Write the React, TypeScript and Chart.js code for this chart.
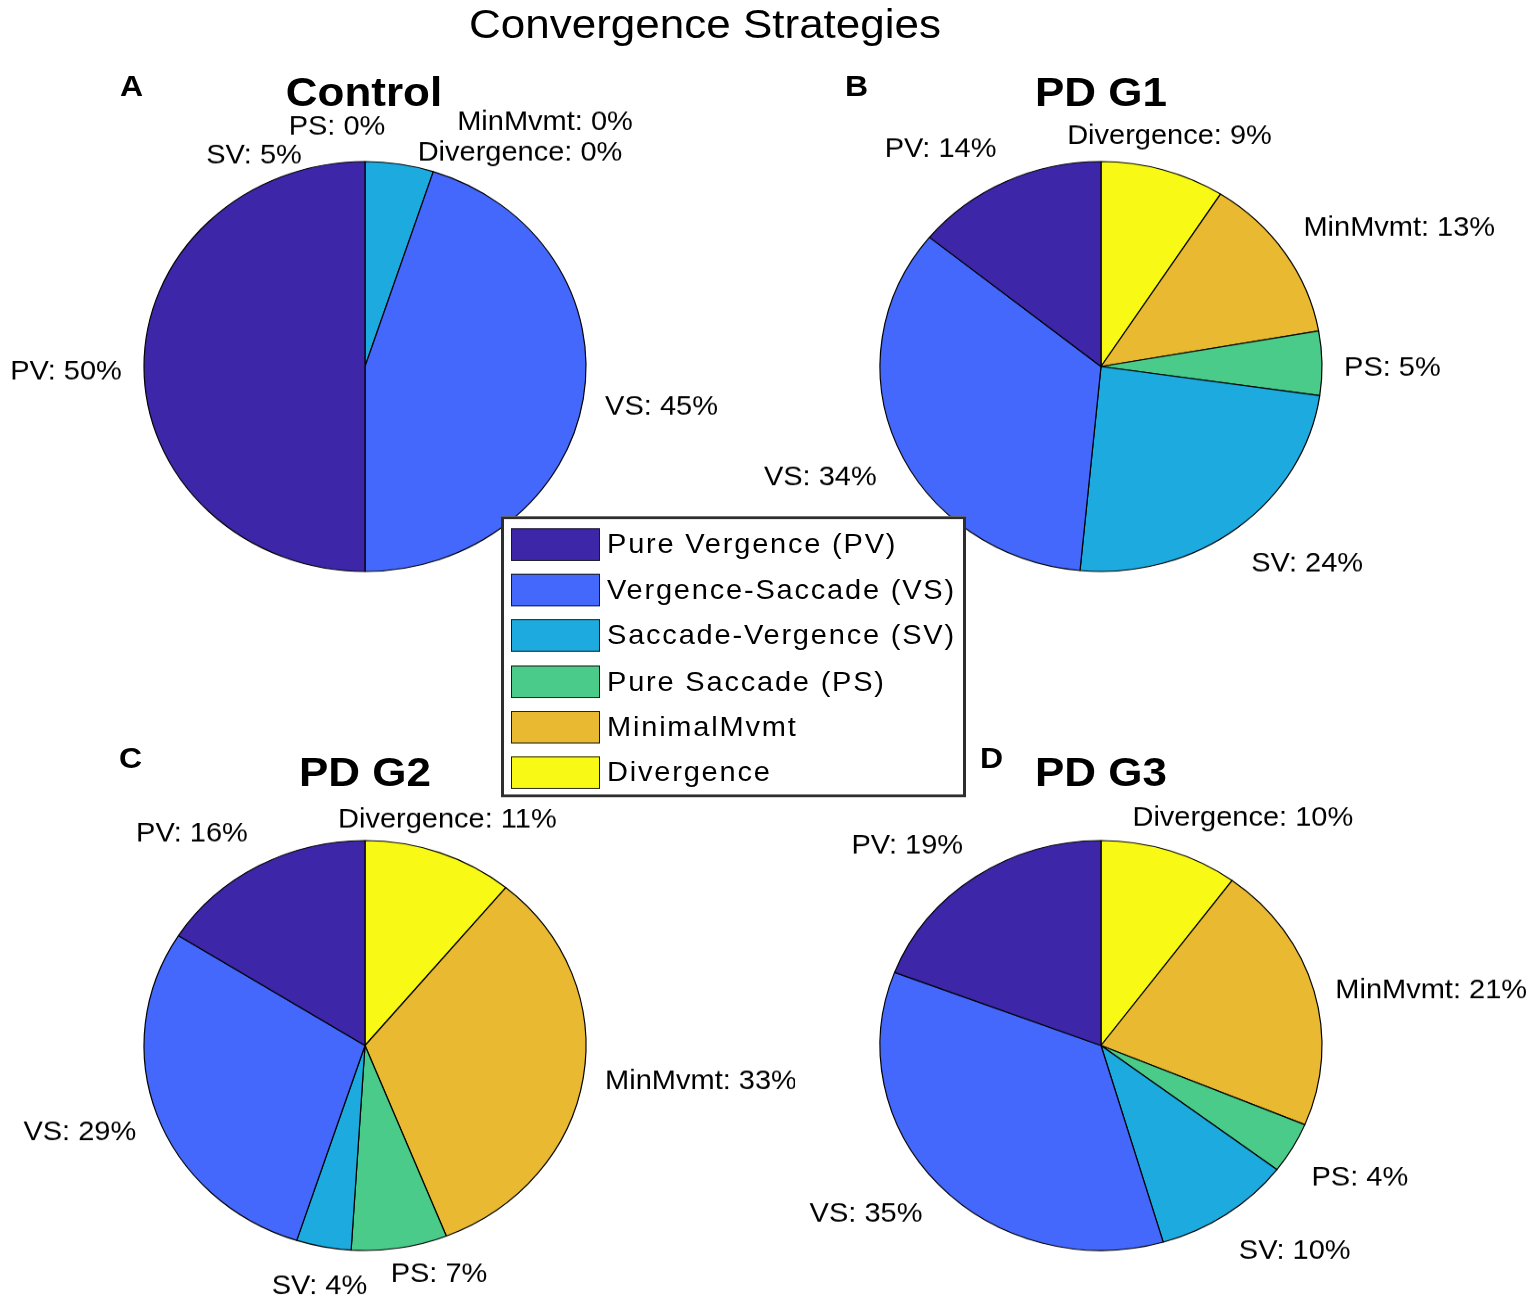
import React, { useEffect, useRef } from 'react';
import { Chart, registerables } from 'chart.js';

Chart.register(...registerables);

// categories in the order the legend lists them
const categories = [
  'Pure Vergence (PV)',
  'Vergence-Saccade (VS)',
  'Saccade-Vergence (SV)',
  'Pure Saccade (PS)',
  'MinimalMvmt',
  'Divergence',
];
const shortNames = ['PV', 'VS', 'SV', 'PS', 'MinMvmt', 'Divergence'];
const sliceColors = ['#3e26a8', '#4468fc', '#1daadf', '#4acb89', '#e9b931', '#f8f914'];

// percentages per group (same order as categories)
const controlValues = [50, 45, 5, 0, 0, 0];
const pdG1Values = [14, 34, 24, 5, 13, 9];
const pdG2Values = [16, 29, 4, 7, 33, 11];
const pdG3Values = [19, 35, 10, 4, 21, 10];

// the figure is slightly squashed vertically
const SY = 0.927;
const FONT = "'Liberation Sans', Arial, Helvetica, sans-serif";
const RADIUS = 221;
const CW = 860;
const CH = 620;

type Nudge = Record<string, { dx: number; dy: number }>;

// hand moved labels (pixels), the rest sit on the slice mid-angle
const controlNudges: Nudge = {
  SV: { dx: -149, dy: 28 },
  PS: { dx: -28, dy: 0 },
  MinMvmt: { dx: 180, dy: -5 },
  Divergence: { dx: 155, dy: 28 },
};
const pdG1Nudges: Nudge = { VS: { dx: 0, dy: 5 } };
const pdG2Nudges: Nudge = { PS: { dx: 36, dy: -15 }, VS: { dx: 0, dy: -10 }, MinMvmt: { dx: 0, dy: -5 } };
const pdG3Nudges: Nudge = { Divergence: { dx: 66, dy: 0 }, VS: { dx: 0, dy: -4 } };

interface PieProps {
  values: number[];
  cx: number;
  cy: number;
  nudges?: Nudge;
}

const PiePanel: React.FC<PieProps> = ({ values, cx, cy, nudges = {} }) => {
  const canvasRef = useRef<HTMLCanvasElement>(null);

  useEffect(() => {
    if (!canvasRef.current) return;
    const ctx = canvasRef.current.getContext('2d');
    if (!ctx) return;

    // MATLAB goes counter-clockwise, Chart.js clockwise -> reverse
    const names = [...shortNames].reverse();
    const data = [...values].reverse();
    const colors = [...sliceColors].reverse();

    const sliceLabels = {
      id: 'sliceLabels',
      afterDatasetsDraw(chart: Chart) {
        const c = chart.ctx;
        const meta = chart.getDatasetMeta(0);
        c.save();
        c.font = `29px ${FONT}`;
        c.fillStyle = '#000';
        meta.data.forEach((el: any, i: number) => {
          const p = el.getProps(['x', 'y', 'startAngle', 'endAngle', 'outerRadius'], true);
          const mid = (p.startAngle + p.endAngle) / 2;
          const dx = Math.cos(mid);
          const dy = Math.sin(mid);
          const r = p.outerRadius * 1.1;
          let px = p.x + dx * r;
          let py = p.y + dy * r;
          c.textAlign = Math.abs(dx) < 0.38 ? 'center' : dx > 0 ? 'left' : 'right';
          if (Math.abs(dy) < 0.3) {
            c.textBaseline = 'middle';
            py += 6;
          } else if (dy < 0) {
            c.textBaseline = 'bottom';
          } else {
            c.textBaseline = 'top';
            py += 7;
          }
          const n = nudges[names[i]];
          if (n) {
            px += n.dx;
            py += n.dy;
          }
          c.fillText(`${names[i]}: ${data[i]}%`, px, py);
        });
        c.restore();
      },
    };

    const chart = new Chart(ctx, {
      type: 'pie',
      data: {
        labels: names,
        datasets: [
          {
            data,
            backgroundColor: colors,
            borderColor: '#000',
            borderWidth: 1.2,
            hoverOffset: 0,
          },
        ],
      },
      options: {
        responsive: false,
        animation: false,
        events: [],
        radius: RADIUS,
        layout: { padding: 0 },
        plugins: {
          legend: { display: false },
          tooltip: { enabled: false },
          title: { display: false },
        },
      },
      plugins: [sliceLabels],
    });

    return () => {
      chart.destroy();
    };
  }, [values, nudges]);

  // bitmap is CW x CH, shown squashed to match the figure
  return (
    <canvas
      ref={canvasRef}
      width={CW}
      height={CH}
      style={{
        position: 'absolute',
        left: cx - CW / 2,
        top: (cy - CH / 2) * SY,
        width: CW,
        height: CH * SY,
      }}
    />
  );
};

const textStyle = (left: number, top: number, size: number, bold: boolean, width = 0): React.CSSProperties => ({
  position: 'absolute',
  left: width ? left - width / 2 : left,
  top: top - size * 0.49,
  width: width || undefined,
  textAlign: width ? 'center' : 'left',
  fontSize: size,
  fontWeight: bold ? 'bold' : 'normal',
  lineHeight: 1,
  whiteSpace: 'nowrap',
  color: '#000',
});

const App: React.FC = () => {
  const legendTop = 557;
  return (
    <div style={{ position: 'absolute', left: 0, top: 0, width: 1535, height: 1305, overflow: 'hidden', background: '#fff' }}>
      <PiePanel values={controlValues} cx={365} cy={395} nudges={controlNudges} />
      <PiePanel values={pdG1Values} cx={1101} cy={395} nudges={pdG1Nudges} />
      <PiePanel values={pdG2Values} cx={365} cy={1128} nudges={pdG2Nudges} />
      <PiePanel values={pdG3Values} cx={1101} cy={1128} nudges={pdG3Nudges} />

      <div
        style={{
          position: 'absolute',
          left: 0,
          top: 0,
          width: 1535,
          height: 1305 / SY,
          transform: `scaleY(${SY})`,
          transformOrigin: '0 0',
          fontFamily: FONT,
          pointerEvents: 'none',
        }}
      >
        <div style={textStyle(705, 26, 44, false, 700)}>Convergence Strategies</div>

        <div style={textStyle(120, 93, 32, true)}>A</div>
        <div style={textStyle(845, 93, 32, true)}>B</div>
        <div style={textStyle(119, 818, 32, true)}>C</div>
        <div style={textStyle(980, 818, 32, true)}>D</div>

        <div style={textStyle(364, 99, 44, true, 400)}>Control</div>
        <div style={textStyle(1101, 99, 44, true, 400)}>PD G1</div>
        <div style={textStyle(365, 833, 44, true, 400)}>PD G2</div>
        <div style={textStyle(1101, 833, 44, true, 400)}>PD G3</div>

        <div
          style={{
            position: 'absolute',
            left: 501,
            top: legendTop,
            width: 465,
            height: 303,
            boxSizing: 'border-box',
            border: '3px solid #2e2e2e',
            background: '#fff',
          }}
        >
          {categories.map((name, i) => (
            <div key={name} style={{ position: 'absolute', left: 7, top: 10 + i * 49.2, height: 35, display: 'flex', alignItems: 'center' }}>
              <div
                style={{
                  width: 89,
                  height: 35,
                  boxSizing: 'border-box',
                  border: '1.5px solid #1a1a1a',
                  background: sliceColors[i],
                }}
              />
              <div style={{ marginLeft: 7, fontSize: 29, letterSpacing: 1.8, lineHeight: '35px', whiteSpace: 'nowrap' }}>{name}</div>
            </div>
          ))}
        </div>
      </div>
    </div>
  );
};

export default App;
